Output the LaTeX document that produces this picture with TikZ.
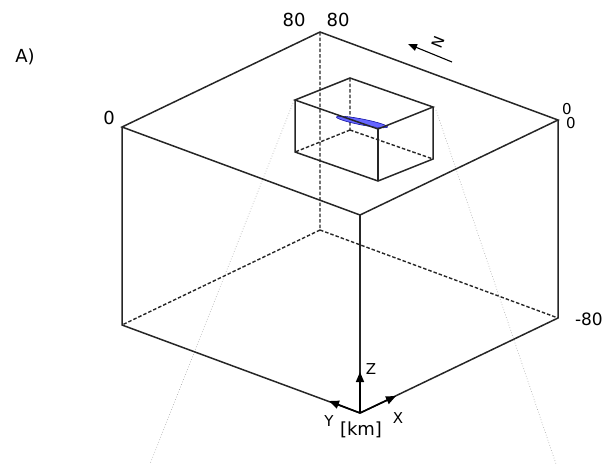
\documentclass[tikz,border=0pt]{standalone}
\usepackage{fontspec}
\setmainfont{DejaVu Sans}
\usetikzlibrary{shapes.geometric,arrows.meta}
\begin{document}
\begin{tikzpicture}[x=1pt,y=-1pt,
  edge/.style={line width=1.5pt,black!85},
  hidden/.style={line width=1.4pt,black!85,dash pattern=on 3.5pt off 2pt},
  ray/.style={line width=0.7pt,black!30,dotted},
  lbl/.style={font=\fontsize{18}{20}\selectfont,inner sep=0pt},
  sml/.style={font=\fontsize{15}{17}\selectfont,inner sep=0pt},
  axis/.style={line width=1.6pt,-{Triangle[length=10pt,width=8pt]}}]
\useasboundingbox (0,0) rectangle (604,464);
% big box
\coordinate (TB) at (320,32);
\coordinate (TL) at (122,127);
\coordinate (TR) at (558,120);
\coordinate (TF) at (360,215);
\coordinate (BB) at (320,230);
\coordinate (BL) at (122,325);
\coordinate (BR) at (558,318);
\coordinate (BF) at (360,413);
% small box
\coordinate (sB) at (350,78);
\coordinate (sL) at (295,100);
\coordinate (sR) at (433,107);
\coordinate (sF) at (378,129);
\coordinate (sBb) at (350,130);
\coordinate (sLb) at (295,152);
\coordinate (sRb) at (433,159);
\coordinate (sFb) at (378,181);
% rays
\coordinate (rl) at (150,464);
\coordinate (rr) at (556,464);
\coordinate (rls) at (293,103);
\coordinate (rrs) at (436,110);
\draw[ray] (rls) -- (rl);
\draw[ray] (rrs) -- (rr);
% big box hidden
\draw[hidden] (TB) -- (BB) (BB) -- (BL) (BB) -- (BR);
% small box hidden
\draw[hidden] (sB) -- (sBb) (sBb) -- (sLb) (sBb) -- (sRb);
% blue body
\node[ellipse,minimum width=52pt,minimum height=6pt,inner sep=0pt,
  fill=blue!60!white,draw=blue!60!black,line width=0.5pt,rotate=-11] (body) at (362,122) {};
% small box edges
\draw[edge] (sB) -- (sL) -- (sF) -- (sR) -- cycle;
\draw[edge] (sL) -- (sLb) -- (sFb) -- (sRb) -- (sR);
\draw[edge] (sF) -- (sFb);
% big box edges
\draw[edge] (TB) -- (TL) -- (TF) -- (TR) -- cycle;
\draw[edge] (TL) -- (BL) -- (BF) -- (BR) -- (TR);
\draw[edge] (TF) -- (BF);
% axes
\coordinate (zt) at (360,372);
\coordinate (yt) at (329,401);
\coordinate (xt) at (396,396);
\draw[axis] (BF) -- (zt);
\draw[axis] (BF) -- (yt);
\draw[axis] (BF) -- (xt);
\node[sml] (zl) at (371,369) {Z};
\node[sml] (yl) at (329,421) {Y};
\node[lbl] (km) at (361,430) {[km]};
\node[sml] (xl) at (398,418) {X};
% labels
\node[lbl] (a) at (25,57) {A)};
\node[lbl] (l80a) at (294,20) {80};
\node[lbl] (l80b) at (338,20) {80};
\node[lbl] (l0l) at (109,118) {0};
\node[sml] (l0a) at (567,109) {0};
\node[sml] (l0b) at (571,123) {0};
\node[lbl,font=\fontsize{17}{19}\selectfont,anchor=east] (l80c) at (603,319) {-80};
% north arrow
\coordinate (nt) at (452,62);
\coordinate (nh) at (408,44);
\draw[line width=1.1pt,-{Triangle[length=9pt,width=7pt]}] (nt) -- (nh);
\node[sml,rotate=68] (nl) at (438,42) {N};
\end{tikzpicture}
\end{document}
